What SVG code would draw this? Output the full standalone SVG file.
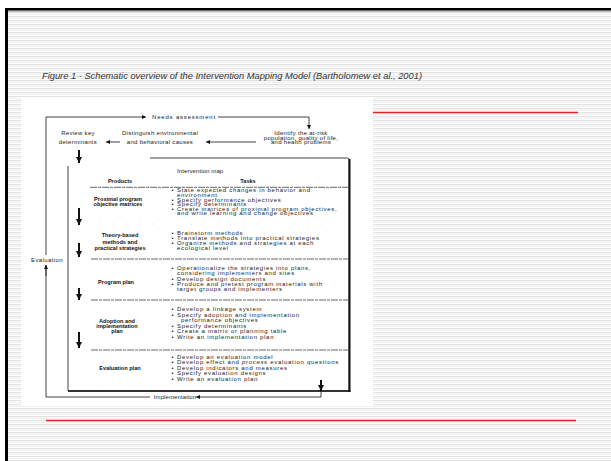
<svg xmlns="http://www.w3.org/2000/svg" width="611" height="461" viewBox="0 0 611 461">
<defs>
<pattern id="stripes" width="8" height="4" patternUnits="userSpaceOnUse">
<rect width="8" height="4" fill="#ffffff"/>
<rect y="0" width="8" height="1.2" fill="#e2e2e2"/>
<rect y="2" width="8" height="1" fill="#efefef"/>
</pattern>
<marker id="ah" viewBox="0 0 10 10" refX="10" refY="5" markerUnits="userSpaceOnUse" markerWidth="5" markerHeight="4" orient="auto">
<path d="M0,0 L10,5 L0,10 z" fill="#111"/>
</marker>
<marker id="ahb" viewBox="0 0 10 10" refX="10" refY="5" markerUnits="userSpaceOnUse" markerWidth="6" markerHeight="6" orient="auto">
<path d="M0,0 L10,5 L0,10 z" fill="#111"/>
</marker>
</defs>
<style>
.t { font-family: "Liberation Sans", Arial, sans-serif; font-size: 6px; fill: #222; letter-spacing: 0.7px; }
.l { font-family: "Liberation Sans", Arial, sans-serif; font-size: 6px; fill: #222; letter-spacing: 0.3px; text-anchor: middle; }
.b { font-family: "Liberation Sans", Arial, sans-serif; font-size: 5.6px; font-weight: bold; fill: #111; text-anchor: middle; }
.thin { stroke: #111; stroke-width: 0.8; fill: none; }
.thick { stroke: #111; stroke-width: 2; fill: none; }
.sep { stroke: #555; stroke-width: 0.9; stroke-dasharray: 7 1 3 1; fill: none; }
.red { stroke: #e02222; stroke-width: 1.3; }
</style>

<!-- slide background -->
<rect width="611" height="461" fill="#ffffff"/>
<rect x="8" y="11" width="603" height="450" fill="url(#stripes)"/>
<rect x="5" y="8" width="606" height="2.6" fill="#000"/>
<rect x="8" y="10.6" width="603" height="1" fill="#888"/>
<rect x="5" y="8" width="3" height="453" fill="#000"/>

<text x="42" y="79" font-family="'Liberation Sans', Arial, sans-serif" font-size="8.5" font-style="italic" fill="#333" textLength="380" lengthAdjust="spacingAndGlyphs">Figure 1 - Schematic overview of the Intervention Mapping Model (Bartholomew et al., 2001)</text>

<rect x="21" y="97" width="352" height="309" fill="#ffffff"/>
<line class="red" x1="373" y1="112.5" x2="578" y2="112.5"/>
<line class="red" x1="46" y1="420.5" x2="576" y2="420.5"/>

<!-- connectors -->
<g id="connectors">
<path class="thin" d="M46,255 V117 H146" marker-end="url(#ah)"/>
<path class="thin" d="M218,117 H309 V129" marker-end="url(#ah)"/>
<path class="thin" d="M46,265 V397 H150"/>
<path class="thin" d="M321,391 V397 H196" marker-end="url(#ah)"/>
<line class="thin" x1="46" y1="276" x2="46" y2="265" marker-end="url(#ah)"/>
<line class="thin" x1="120" y1="142" x2="106" y2="142" marker-end="url(#ah)"/>
<line class="thin" x1="256" y1="142" x2="206" y2="142" marker-end="url(#ah)"/>
<line class="thick" x1="79" y1="150" x2="79" y2="163" marker-end="url(#ahb)"/>
<line class="thick" x1="79" y1="208" x2="79" y2="225" marker-end="url(#ahb)"/>
<line class="thick" x1="79" y1="243" x2="79" y2="257" marker-end="url(#ahb)"/>
<line class="thick" x1="79" y1="288" x2="79" y2="300" marker-end="url(#ahb)"/>
<line class="thick" x1="79" y1="332" x2="79" y2="348" marker-end="url(#ahb)"/>
<line class="thick" x1="321" y1="380" x2="321" y2="391" marker-end="url(#ahb)"/>
</g>

<!-- feedback labels -->
<g id="needs">
<text class="l" x="184" y="119" style="letter-spacing:0.8px">Needs assessment</text>
</g>
<g id="implementation">
<text class="l" x="175" y="399" style="letter-spacing:0.1px">Implementation</text>
</g>
<g id="evaluation">
<text class="l" x="47" y="262" style="letter-spacing:0.4px">Evaluation</text>
</g>

<!-- top chain -->
<g id="review">
<text class="l" x="78" y="135">Review key</text>
<text class="l" x="78" y="144">determinants</text>
</g>
<g id="distinguish">
<text class="l" x="160" y="135">Distinguish environmental</text>
<text class="l" x="160" y="144">and behavioral causes</text>
</g>
<g id="identify">
<text class="l" x="301" y="135">Identify the at-risk</text>
<text class="l" x="301" y="139.7">population, quality of life,</text>
<text class="l" x="301" y="144.3">and health problems</text>
</g>

<!-- intervention map box -->
<g id="intervention-map">
<path d="M150,158 H347 Q349,158 349,160 V391 H68 V166" fill="none" stroke="#111" stroke-width="0.8"/>
<line x1="349.5" y1="159" x2="349.5" y2="392" stroke="#111" stroke-width="2"/>
<line x1="68" y1="391" x2="350.5" y2="391" stroke="#111" stroke-width="1.5"/>
<text class="t" x="177" y="173" style="letter-spacing:0.1px">Intervention map</text>
<text class="b" x="120" y="183">Products</text>
<text class="b" x="248" y="183">Tasks</text>
<line class="sep" x1="90" y1="187.3" x2="348" y2="187.3"/>
<line x1="100" y1="224" x2="323" y2="224" stroke="#bbb" stroke-width="0.6" stroke-dasharray="1 12"/>
<line class="sep" x1="91" y1="259" x2="348" y2="259"/>
<line class="sep" x1="91" y1="300" x2="348" y2="300"/>
<line class="sep" x1="91" y1="350" x2="348" y2="350"/>
</g>

<g id="row-proximal">
<text class="b" x="118" y="201">Proximal program</text>
<text class="b" x="118" y="206">objective matrices</text>
<text class="t" x="171.5" y="192.3">•<tspan x="177">State expected changes in behavior and</tspan></text>
<text class="t" x="177" y="196.9">environment</text>
<text class="t" x="171.5" y="201.5">•<tspan x="177">Specify performance objectives</tspan></text>
<text class="t" x="171.5" y="206.1">•<tspan x="177">Specify determinants</tspan></text>
<text class="t" x="171.5" y="210.7">•<tspan x="177">Create matrices of proximal program objectives,</tspan></text>
<text class="t" x="177" y="215.3">and write learning and change objectives</text>
</g>

<g id="row-theory">
<text class="b" x="120" y="237">Theory-based</text>
<text class="b" x="120" y="243.5">methods and</text>
<text class="b" x="120" y="250">practical strategies</text>
<text class="t" x="171.5" y="234.7">•<tspan x="177">Brainstorm methods</tspan></text>
<text class="t" x="171.5" y="239.7">•<tspan x="177">Translate methods into practical strategies</tspan></text>
<text class="t" x="171.5" y="244.7">•<tspan x="177">Organize methods and strategies at each</tspan></text>
<text class="t" x="177" y="249.7">ecological level</text>
</g>

<g id="row-program">
<text class="b" x="116" y="283.7">Program plan</text>
<text class="t" x="171.5" y="270.3">•<tspan x="177">Operationalize the strategies into plans,</tspan></text>
<text class="t" x="177" y="275.3">considering implementers and sites</text>
<text class="t" x="171.5" y="281">•<tspan x="177">Develop design documents</tspan></text>
<text class="t" x="171.5" y="286">•<tspan x="177">Produce and pretest program materials with</tspan></text>
<text class="t" x="177" y="291">target groups and implementers</text>
</g>

<g id="row-adoption">
<text class="b" x="117" y="322.7">Adoption and</text>
<text class="b" x="117" y="328">implementation</text>
<text class="b" x="117" y="333">plan</text>
<text class="t" x="171.5" y="311.3">•<tspan x="177">Develop a linkage system</tspan></text>
<text class="t" x="171.5" y="317">•<tspan x="177">Specify adoption and implementation</tspan></text>
<text class="t" x="181" y="322">performance objectives</text>
<text class="t" x="171.5" y="327.7">•<tspan x="177">Specify determinants</tspan></text>
<text class="t" x="171.5" y="333">•<tspan x="177">Create a matrix or planning table</tspan></text>
<text class="t" x="171.5" y="338.7">•<tspan x="177">Write an implementation plan</tspan></text>
</g>

<g id="row-evaluation">
<text class="b" x="120" y="369.7">Evaluation plan</text>
<text class="t" x="171.5" y="358.7">•<tspan x="177">Develop an evaluation model</tspan></text>
<text class="t" x="171.5" y="364.3">•<tspan x="177">Develop effect and <tspan font-style="italic">process</tspan> evaluation questions</tspan></text>
<text class="t" x="171.5" y="369.7">•<tspan x="177">Develop indicators and measures</tspan></text>
<text class="t" x="171.5" y="375.3">•<tspan x="177">Specify evaluation designs</tspan></text>
<text class="t" x="171.5" y="381">•<tspan x="177">Write an evaluation plan</tspan></text>
</g>
</svg>
